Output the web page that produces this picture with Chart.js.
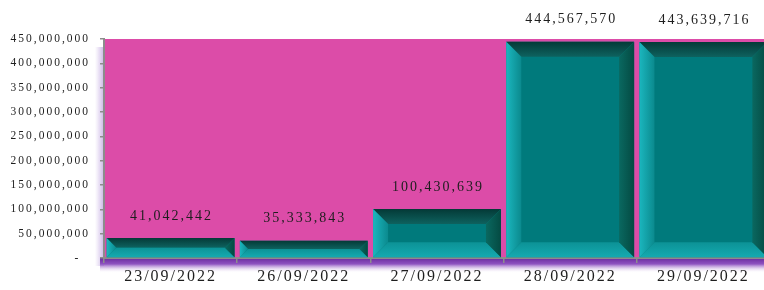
<!DOCTYPE html>
<html>
<head>
<meta charset="utf-8">
<script src="https://cdn.jsdelivr.net/npm/chart.js@4.4.0/dist/chart.umd.min.js"></script>
<style>
  html, body { margin: 0; padding: 0; background: #fff; overflow: hidden; }
  #wrap { position: absolute; left: 0; top: 0; width: 770px; height: 290px; }
</style>
</head>
<body>
<div id="wrap"><canvas id="chart" width="770" height="290"></canvas></div>
<script>
var dates = ['23/09/2022', '26/09/2022', '27/09/2022', '28/09/2022', '29/09/2022'];
var amounts = [41042442, 35333843, 100430639, 444567570, 443639716];
var yMax = 450000000;
var yStep = 50000000;

var serif = "'Liberation Serif', 'DejaVu Serif', serif";

function fmt(v) {
  return v === 0 ? '-  ' : v.toLocaleString('en-US');
}

// magenta plot area, purple floor and glow behind the axes
var backdrop = {
  id: 'backdrop',
  beforeDraw: function (chart) {
    var ctx = chart.ctx, a = chart.chartArea;
    ctx.letterSpacing = '2px';
    ctx.save();
    var glow = ctx.createLinearGradient(a.left - 9, 0, a.left, 0);
    glow.addColorStop(0, 'rgba(140,90,200,0)');
    glow.addColorStop(1, 'rgba(120,70,190,0.4)');
    ctx.fillStyle = glow;
    ctx.fillRect(a.left - 9, a.top + 8, 9, a.bottom - a.top);
    var floor = ctx.createLinearGradient(0, a.bottom, 0, a.bottom + 15);
    floor.addColorStop(0, '#6a2a9e');
    floor.addColorStop(0.4, '#8e52c0');
    floor.addColorStop(1, 'rgba(255,255,255,0)');
    ctx.fillStyle = floor;
    ctx.fillRect(a.left - 4, a.bottom, a.right - a.left + 4, 15);
    ctx.fillStyle = '#dc4ca8';
    ctx.fillRect(a.left, a.top, a.right - a.left, a.bottom - a.top);
    ctx.restore();
  }
};

function poly(ctx, pts, fill) {
  ctx.beginPath();
  ctx.moveTo(pts[0][0], pts[0][1]);
  for (var i = 1; i < pts.length; i++) ctx.lineTo(pts[i][0], pts[i][1]);
  ctx.closePath();
  ctx.fillStyle = fill;
  ctx.fill();
}

// bevelled edges on each bar + value labels
var bevel = {
  id: 'bevel',
  afterDatasetsDraw: function (chart) {
    var ctx = chart.ctx;
    var meta = chart.getDatasetMeta(0);
    ctx.save();
    meta.data.forEach(function (bar, i) {
      var l = bar.x - bar.width / 2, r = bar.x + bar.width / 2;
      var t = bar.y, b = bar.base;
      var s = Math.min(15, (b - t) / 2, (r - l) / 2);
      var g;
      g = ctx.createLinearGradient(0, t, 0, t + s);
      g.addColorStop(0, '#043a37');
      g.addColorStop(1, '#0e625f');
      poly(ctx, [[l, t], [r, t], [r - s, t + s], [l + s, t + s]], g);
      g = ctx.createLinearGradient(0, b, 0, b - s);
      g.addColorStop(0, '#15aab0');
      g.addColorStop(1, '#0c9296');
      poly(ctx, [[l, b], [r, b], [r - s, b - s], [l + s, b - s]], g);
      g = ctx.createLinearGradient(l, 0, l + s, 0);
      g.addColorStop(0, '#1bb6be');
      g.addColorStop(1, '#0b8a8e');
      poly(ctx, [[l, t], [l + s, t + s], [l + s, b - s], [l, b]], g);
      g = ctx.createLinearGradient(r, 0, r - s, 0);
      g.addColorStop(0, '#044a42');
      g.addColorStop(1, '#0a6860');
      poly(ctx, [[r, t], [r - s, t + s], [r - s, b - s], [r, b]], g);

      ctx.fillStyle = '#1e1e1e';
      ctx.font = '14px ' + serif;
      ctx.textAlign = 'center';
      ctx.textBaseline = 'middle';
      ctx.fillText(fmt(amounts[i]), bar.x + 1, t - 22);
    });
    ctx.restore();
  }
};

var ctx = document.getElementById('chart').getContext('2d');
var chart = new Chart(ctx, {
  type: 'bar',
  data: {
    labels: dates,
    datasets: [{
      data: amounts,
      backgroundColor: '#007a7c',
      borderWidth: 0,
      barPercentage: 0.96,
      categoryPercentage: 1
    }]
  },
  options: {
    responsive: false,
    animation: false,
    layout: { padding: { top: 39, right: 0, left: 0, bottom: 0 } },
    plugins: {
      legend: { display: false },
      tooltip: { enabled: false }
    },
    scales: {
      x: {
        offset: true,
        grid: {
          offset: true,
          drawOnChartArea: false,
          drawTicks: true,
          tickLength: 5,
          color: '#8c8c8c',
          lineWidth: 1.5
        },
        border: { color: '#8c8c8c', width: 2 },
        ticks: {
          color: '#1e1e1e',
          padding: 4,
          maxRotation: 0,
          font: { family: serif, size: 16 }
        },
        afterFit: function (scale) { scale.height = 32; }
      },
      y: {
        min: 0,
        max: yMax,
        grid: {
          drawOnChartArea: false,
          drawTicks: true,
          tickLength: 4,
          color: '#8c8c8c',
          lineWidth: 1.5
        },
        border: { color: '#8c8c8c', width: 2 },
        ticks: {
          stepSize: yStep,
          color: '#1e1e1e',
          padding: 10,
          font: { family: serif, size: 11.5 },
          callback: function (v) { return fmt(v); }
        },
        afterFit: function (scale) { scale.width = 104; }
      }
    }
  },
  plugins: [backdrop, bevel]
});
</script>
</body>
</html>
